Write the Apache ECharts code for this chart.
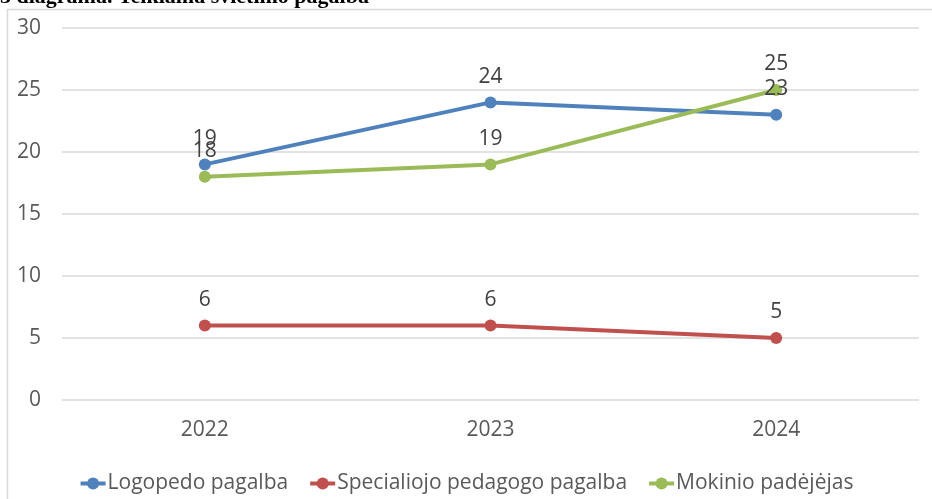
<!DOCTYPE html>
<html><head><meta charset="utf-8">
<script src="https://cdn.jsdelivr.net/npm/echarts@6/dist/echarts.min.js"></script>
<style>html,body{margin:0;padding:0;background:#fff;}#c{width:932px;height:499px;}</style>
</head><body><div id="c"></div>
<script>
const categories = ['2022', '2023', '2024'];
const logopedo = [19, 24, 23];
const specialiojo = [6, 6, 5];
const mokinio = [18, 19, 25];
const seriesNames = ['Logopedo pagalba', 'Specialiojo pedagogo pagalba', 'Mokinio padėjėjas'];
const colors = ['#4F81BD', '#C0504D', '#9BBB59'];
const yTicks = {min: 0, max: 30, interval: 5};

const font = 'Open Sans';
const chart = echarts.init(document.getElementById('c'));
function mk(name, data, color) {
  return {
    name: name, type: 'line', data: data,
    symbol: 'circle', symbolSize: 12,
    lineStyle: {color: color, width: 4},
    itemStyle: {color: color},
    label: {show: true, position: 'top', distance: 9, color: '#404040', fontSize: 21, fontFamily: font},
    emphasis: {disabled: true}
  };
}
chart.setOption({
  animation: false,
  graphic: [
    {type: 'rect', shape: {x: 7.5, y: 9.5, width: 1000, height: 1000}, style: {fill: 'none', stroke: '#d9d9d9', lineWidth: 1.5}, z: -1},
    {type: 'text', left: 0, top: -14, style: {text: '3 diagrama. Teikiama švietimo pagalba', font: 'bold 22px "Liberation Serif"', fill: '#000'}}
  ],
  grid: {left: 62, right: 13, top: 28, bottom: 99},
  xAxis: {
    type: 'category', data: categories, boundaryGap: true,
    axisLine: {show: false}, axisTick: {show: false},
    axisLabel: {color: '#595959', fontSize: 21, fontFamily: font, margin: 20}
  },
  yAxis: {
    type: 'value', min: yTicks.min, max: yTicks.max, interval: yTicks.interval,
    axisLine: {show: false}, axisTick: {show: false},
    splitLine: {lineStyle: {color: '#d9d9d9', width: 1.5}},
    axisLabel: {color: '#595959', fontSize: 21, fontFamily: font, margin: 21}
  },
  legend: {
    bottom: 0, left: 'center', itemGap: 20, itemWidth: 25, itemHeight: 15,
    lineStyle: {width: 4},
    textStyle: {color: '#595959', fontSize: 21, fontFamily: font, padding: [0, 0, 0, -3]},
    data: seriesNames
  },
  series: [
    mk(seriesNames[0], logopedo, colors[0]),
    mk(seriesNames[1], specialiojo, colors[1]),
    mk(seriesNames[2], mokinio, colors[2])
  ]
});
</script></body></html>
